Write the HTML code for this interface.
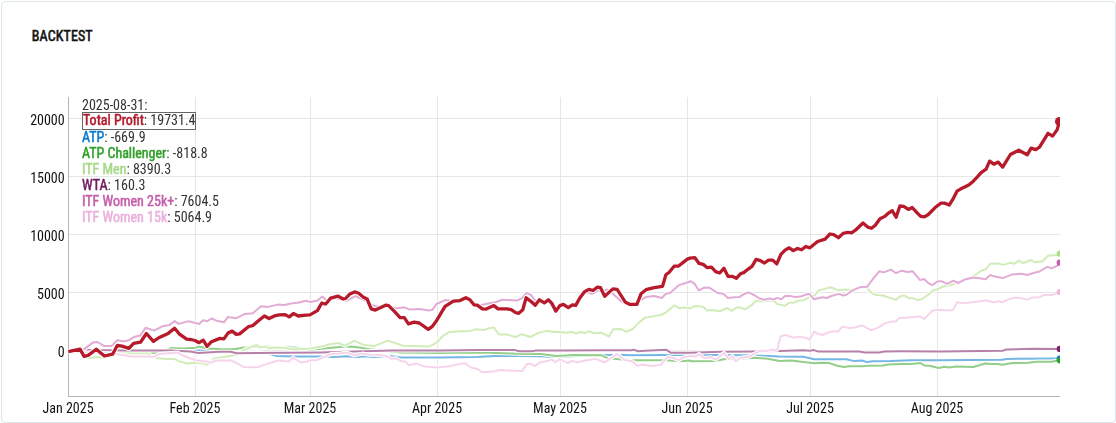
<!DOCTYPE html>
<html><head><meta charset="utf-8"><title>Backtest</title>
<style>
html,body{margin:0;padding:0;background:#fff;width:1116px;height:423px;overflow:hidden}
body{font-family:"Roboto Condensed","Liberation Sans Narrow","Liberation Sans",sans-serif;color:#212529;position:relative}
.card{position:absolute;left:1px;top:1px;width:1113px;height:420px;border:1px solid #dbe4e6;border-radius:4px;box-sizing:content-box}
.title{position:absolute;left:31.8px;top:28.3px;font-size:14px;font-weight:400;letter-spacing:0.12px;-webkit-text-stroke:0.55px #111;color:#111}
svg{position:absolute;left:0;top:0}
.yl{will-change:transform;position:absolute;left:0;width:64.7px;text-align:right;font-size:14px;line-height:18px;color:#111}
.xl{will-change:transform;position:absolute;top:399px;width:100px;text-align:center;font-size:14px;line-height:18px;color:#111}
.lg{will-change:transform;position:absolute;left:82px;font-size:14px;line-height:16px;color:#333;white-space:nowrap}
.lg b{font-weight:400;-webkit-text-stroke:0.5px currentColor}
.hl{position:absolute;left:82px;top:112px;width:112px;height:16px;border:1px solid #666}
</style></head><body>
<div class="card"></div>
<div class="title">BACKTEST</div>
<svg width="1116" height="423" viewBox="0 0 1116 423">
<defs><clipPath id="pc"><rect x="60" y="90" width="1000" height="305.5"/></clipPath></defs>
<g stroke="#e6e6e6" stroke-width="1">
<line x1="69" x2="1060" y1="118.5" y2="118.5"/>
<line x1="69" x2="1060" y1="176.5" y2="176.5"/>
<line x1="69" x2="1060" y1="234.5" y2="234.5"/>
<line x1="69" x2="1060" y1="292.5" y2="292.5"/>
<line x1="69" x2="1060" y1="350.5" y2="350.5"/>
<line x1="195.5" x2="195.5" y1="97" y2="396"/>
<line x1="310.5" x2="310.5" y1="97" y2="396"/>
<line x1="437.5" x2="437.5" y1="97" y2="396"/>
<line x1="560.5" x2="560.5" y1="97" y2="396"/>
<line x1="687.5" x2="687.5" y1="97" y2="396"/>
<line x1="810.5" x2="810.5" y1="97" y2="396"/>
<line x1="937.5" x2="937.5" y1="97" y2="396"/>
</g>
<g stroke="#b5b5b5" stroke-width="1">
<line x1="68.5" x2="68.5" y1="97" y2="397"/>
<line x1="68" x2="1060" y1="396.5" y2="396.5"/>
</g>
<g clip-path="url(#pc)">
<g>
<polyline points="68.0,351.0 100.0,352.0 128.9,353.0 156.9,353.0 180.0,352.0 198.2,350.6 207.5,350.6 230.0,352.0 262.0,352.5 270.0,354.0 276.2,355.9 294.8,356.5 320.0,356.5 333.3,357.0 347.3,356.2 356.6,357.0 364.7,356.2 374.0,357.0 391.5,356.2 400.9,357.4 440.0,357.4 476.8,357.0 494.2,355.9 517.5,355.9 540.8,356.2 552.5,357.0 580.0,356.0 605.4,355.0 622.4,355.0 633.8,355.2 666.4,355.0 690.0,354.9 720.5,355.1 755.9,355.6 779.6,356.5 803.2,356.8 810.0,358.2 813.9,359.2 846.4,359.2 854.2,361.1 862.0,360.5 867.2,362.1 872.4,361.3 890.6,361.1 911.4,360.2 940.0,360.2 1001.4,359.7 1007.2,358.9 1059.5,358.6" fill="none" stroke="#fff" stroke-width="4" stroke-linejoin="round" stroke-linecap="butt"/>
<polyline points="68.0,351.0 100.0,352.0 128.9,353.0 156.9,353.0 180.0,352.0 198.2,350.6 207.5,350.6 230.0,352.0 262.0,352.5 270.0,354.0 276.2,355.9 294.8,356.5 320.0,356.5 333.3,357.0 347.3,356.2 356.6,357.0 364.7,356.2 374.0,357.0 391.5,356.2 400.9,357.4 440.0,357.4 476.8,357.0 494.2,355.9 517.5,355.9 540.8,356.2 552.5,357.0 580.0,356.0 605.4,355.0 622.4,355.0 633.8,355.2 666.4,355.0 690.0,354.9 720.5,355.1 755.9,355.6 779.6,356.5 803.2,356.8 810.0,358.2 813.9,359.2 846.4,359.2 854.2,361.1 862.0,360.5 867.2,362.1 872.4,361.3 890.6,361.1 911.4,360.2 940.0,360.2 1001.4,359.7 1007.2,358.9 1059.5,358.6" fill="none" stroke="#74b7e5" stroke-width="2" stroke-linejoin="round" stroke-linecap="butt"/>
<polyline points="68.0,351.0 90.0,352.5 110.0,353.5 128.9,354.0 147.0,353.5 160.0,352.5 170.8,348.1 182.5,348.5 196.0,347.7 198.2,346.6 207.5,348.5 222.6,349.2 234.3,349.2 242.4,347.7 264.5,346.2 271.5,347.1 285.5,346.9 300.0,348.0 310.0,350.1 331.0,347.7 340.3,347.1 350.8,346.6 361.3,347.7 369.4,349.2 400.9,352.4 426.5,352.7 440.0,353.1 465.0,352.4 488.4,352.7 511.7,353.6 523.4,354.1 540.8,354.1 556.0,355.9 566.0,355.5 574.2,355.0 601.2,355.2 606.8,357.8 613.9,358.8 619.6,359.2 633.8,360.2 662.2,360.2 670.7,360.6 680.6,361.2 690.0,360.6 690.9,361.2 714.6,361.0 724.0,359.2 755.9,357.7 767.7,358.8 779.6,361.0 791.4,360.4 803.2,362.1 815.0,363.3 820.4,362.8 829.5,363.1 837.3,365.7 843.8,367.0 849.0,366.3 862.0,366.3 868.5,365.7 882.8,365.4 888.0,364.4 901.0,364.1 911.4,364.1 920.5,363.1 924.4,365.4 929.6,365.7 938.7,368.0 944.3,366.7 949.0,367.5 956.0,366.4 973.4,367.0 979.3,365.2 985.1,363.5 990.9,363.9 997.9,363.9 1002.6,364.7 1010.7,363.2 1028.2,362.7 1036.3,361.8 1051.5,361.8 1059.5,360.3" fill="none" stroke="#fff" stroke-width="4" stroke-linejoin="round" stroke-linecap="butt"/>
<polyline points="68.0,351.0 90.0,352.5 110.0,353.5 128.9,354.0 147.0,353.5 160.0,352.5 170.8,348.1 182.5,348.5 196.0,347.7 198.2,346.6 207.5,348.5 222.6,349.2 234.3,349.2 242.4,347.7 264.5,346.2 271.5,347.1 285.5,346.9 300.0,348.0 310.0,350.1 331.0,347.7 340.3,347.1 350.8,346.6 361.3,347.7 369.4,349.2 400.9,352.4 426.5,352.7 440.0,353.1 465.0,352.4 488.4,352.7 511.7,353.6 523.4,354.1 540.8,354.1 556.0,355.9 566.0,355.5 574.2,355.0 601.2,355.2 606.8,357.8 613.9,358.8 619.6,359.2 633.8,360.2 662.2,360.2 670.7,360.6 680.6,361.2 690.0,360.6 690.9,361.2 714.6,361.0 724.0,359.2 755.9,357.7 767.7,358.8 779.6,361.0 791.4,360.4 803.2,362.1 815.0,363.3 820.4,362.8 829.5,363.1 837.3,365.7 843.8,367.0 849.0,366.3 862.0,366.3 868.5,365.7 882.8,365.4 888.0,364.4 901.0,364.1 911.4,364.1 920.5,363.1 924.4,365.4 929.6,365.7 938.7,368.0 944.3,366.7 949.0,367.5 956.0,366.4 973.4,367.0 979.3,365.2 985.1,363.5 990.9,363.9 997.9,363.9 1002.6,364.7 1010.7,363.2 1028.2,362.7 1036.3,361.8 1051.5,361.8 1059.5,360.3" fill="none" stroke="#93ce89" stroke-width="2" stroke-linejoin="round" stroke-linecap="butt"/>
<polyline points="68.0,351.0 72.0,352.5 80.0,353.0 84.0,355.0 89.3,358.3 96.3,356.9 104.4,357.7 112.0,356.0 118.0,353.0 124.2,352.5 135.9,353.4 147.5,353.1 154.5,357.7 165.0,358.9 174.3,358.9 179.0,361.2 187.1,363.5 196.0,362.7 201.6,363.0 207.5,364.7 214.5,358.3 225.0,357.1 236.6,354.6 244.7,349.6 250.6,347.2 256.4,344.9 259.9,347.6 264.5,346.4 269.2,348.4 273.9,347.6 283.2,347.8 294.8,349.6 306.5,348.7 310.0,348.4 321.6,346.6 329.8,344.3 338.0,342.9 345.0,345.7 354.3,340.8 363.6,344.9 374.0,346.1 388.0,340.6 403.2,345.7 414.8,346.1 428.8,346.6 436.0,343.2 442.6,336.2 449.2,332.1 460.8,331.2 470.7,330.9 475.7,329.3 484.0,329.9 488.9,328.3 493.9,327.6 498.9,334.5 507.1,334.5 515.4,337.0 522.0,334.2 530.3,337.0 538.5,332.9 546.8,330.9 555.1,332.1 560.0,332.0 567.1,332.7 571.4,331.7 575.6,333.2 581.3,332.0 584.8,333.2 588.4,331.3 594.1,333.2 601.2,332.7 609.0,336.6 613.2,329.2 621.0,328.9 626.0,331.7 632.4,329.2 639.5,322.1 645.2,317.6 652.2,316.4 660.8,315.0 665.9,312.5 674.1,305.4 679.1,308.2 685.0,307.6 690.2,308.3 694.8,306.0 703.2,306.7 707.1,310.6 712.3,309.9 719.5,311.2 727.3,308.0 731.8,310.9 736.4,307.6 740.3,307.3 744.8,309.3 751.3,305.4 756.5,300.5 761.7,301.5 768.2,300.8 773.4,300.5 777.3,304.1 785.1,305.7 789.0,302.8 794.2,302.4 798.1,300.8 803.3,300.2 809.8,297.2 815.0,295.0 818.3,290.6 824.9,288.9 830.7,287.3 838.9,290.6 844.7,289.4 849.7,290.1 856.0,288.0 862.9,285.6 867.9,288.9 872.0,293.4 876.2,295.0 882.8,295.5 889.4,297.7 896.0,299.7 901.0,296.0 904.3,295.5 909.2,298.3 913.4,298.3 917.5,300.0 921.6,299.3 924.9,297.0 929.0,294.1 933.1,290.4 937.0,289.5 944.2,286.1 950.4,285.3 958.0,282.7 965.7,280.0 975.0,275.3 981.1,270.7 985.7,269.2 990.3,263.8 998.0,263.4 1003.4,264.9 1010.3,262.7 1014.1,263.8 1018.7,260.7 1023.4,263.0 1031.0,260.0 1034.9,262.3 1042.6,261.2 1047.9,255.7 1056.4,255.1 1059.5,253.3" fill="none" stroke="#fff" stroke-width="4" stroke-linejoin="round" stroke-linecap="butt"/>
<polyline points="68.0,351.0 72.0,352.5 80.0,353.0 84.0,355.0 89.3,358.3 96.3,356.9 104.4,357.7 112.0,356.0 118.0,353.0 124.2,352.5 135.9,353.4 147.5,353.1 154.5,357.7 165.0,358.9 174.3,358.9 179.0,361.2 187.1,363.5 196.0,362.7 201.6,363.0 207.5,364.7 214.5,358.3 225.0,357.1 236.6,354.6 244.7,349.6 250.6,347.2 256.4,344.9 259.9,347.6 264.5,346.4 269.2,348.4 273.9,347.6 283.2,347.8 294.8,349.6 306.5,348.7 310.0,348.4 321.6,346.6 329.8,344.3 338.0,342.9 345.0,345.7 354.3,340.8 363.6,344.9 374.0,346.1 388.0,340.6 403.2,345.7 414.8,346.1 428.8,346.6 436.0,343.2 442.6,336.2 449.2,332.1 460.8,331.2 470.7,330.9 475.7,329.3 484.0,329.9 488.9,328.3 493.9,327.6 498.9,334.5 507.1,334.5 515.4,337.0 522.0,334.2 530.3,337.0 538.5,332.9 546.8,330.9 555.1,332.1 560.0,332.0 567.1,332.7 571.4,331.7 575.6,333.2 581.3,332.0 584.8,333.2 588.4,331.3 594.1,333.2 601.2,332.7 609.0,336.6 613.2,329.2 621.0,328.9 626.0,331.7 632.4,329.2 639.5,322.1 645.2,317.6 652.2,316.4 660.8,315.0 665.9,312.5 674.1,305.4 679.1,308.2 685.0,307.6 690.2,308.3 694.8,306.0 703.2,306.7 707.1,310.6 712.3,309.9 719.5,311.2 727.3,308.0 731.8,310.9 736.4,307.6 740.3,307.3 744.8,309.3 751.3,305.4 756.5,300.5 761.7,301.5 768.2,300.8 773.4,300.5 777.3,304.1 785.1,305.7 789.0,302.8 794.2,302.4 798.1,300.8 803.3,300.2 809.8,297.2 815.0,295.0 818.3,290.6 824.9,288.9 830.7,287.3 838.9,290.6 844.7,289.4 849.7,290.1 856.0,288.0 862.9,285.6 867.9,288.9 872.0,293.4 876.2,295.0 882.8,295.5 889.4,297.7 896.0,299.7 901.0,296.0 904.3,295.5 909.2,298.3 913.4,298.3 917.5,300.0 921.6,299.3 924.9,297.0 929.0,294.1 933.1,290.4 937.0,289.5 944.2,286.1 950.4,285.3 958.0,282.7 965.7,280.0 975.0,275.3 981.1,270.7 985.7,269.2 990.3,263.8 998.0,263.4 1003.4,264.9 1010.3,262.7 1014.1,263.8 1018.7,260.7 1023.4,263.0 1031.0,260.0 1034.9,262.3 1042.6,261.2 1047.9,255.7 1056.4,255.1 1059.5,253.3" fill="none" stroke="#d1ecb9" stroke-width="2" stroke-linejoin="round" stroke-linecap="butt"/>
<polyline points="68.0,351.0 85.8,350.1 124.2,350.4 170.8,350.4 190.0,351.6 198.2,353.0 219.1,351.8 230.8,351.8 236.6,353.2 320.0,352.4 345.0,351.8 391.5,350.6 440.0,350.4 480.3,350.1 515.2,350.1 518.7,351.2 532.7,351.2 536.2,350.4 566.0,350.6 602.6,350.3 631.0,350.3 633.8,349.6 638.0,351.3 645.2,350.7 666.4,349.8 670.7,352.7 690.0,352.7 720.5,351.7 755.9,351.5 779.6,350.9 803.2,350.3 810.0,350.7 813.9,350.1 817.8,351.4 859.4,351.4 864.6,352.4 878.9,352.4 884.1,351.4 901.0,351.2 940.0,351.4 1002.6,350.7 1006.0,349.6 1034.0,348.7 1059.5,348.9" fill="none" stroke="#fff" stroke-width="4" stroke-linejoin="round" stroke-linecap="butt"/>
<polyline points="68.0,351.0 85.8,350.1 124.2,350.4 170.8,350.4 190.0,351.6 198.2,353.0 219.1,351.8 230.8,351.8 236.6,353.2 320.0,352.4 345.0,351.8 391.5,350.6 440.0,350.4 480.3,350.1 515.2,350.1 518.7,351.2 532.7,351.2 536.2,350.4 566.0,350.6 602.6,350.3 631.0,350.3 633.8,349.6 638.0,351.3 645.2,350.7 666.4,349.8 670.7,352.7 690.0,352.7 720.5,351.7 755.9,351.5 779.6,350.9 803.2,350.3 810.0,350.7 813.9,350.1 817.8,351.4 859.4,351.4 864.6,352.4 878.9,352.4 884.1,351.4 901.0,351.2 940.0,351.4 1002.6,350.7 1006.0,349.6 1034.0,348.7 1059.5,348.9" fill="none" stroke="#b680a8" stroke-width="2" stroke-linejoin="round" stroke-linecap="butt"/>
<polyline points="68.0,351.0 76.0,351.0 83.5,349.6 92.8,342.6 97.5,342.0 104.4,346.1 111.4,346.1 117.3,340.2 124.2,341.4 128.9,340.2 134.7,336.7 140.5,335.6 145.5,327.7 154.0,330.6 162.5,326.3 169.6,324.9 174.6,321.1 178.8,323.9 186.6,321.6 190.0,321.5 199.1,324.0 203.2,320.2 207.4,321.2 211.5,318.5 216.5,320.7 223.9,322.3 228.0,316.9 236.3,318.2 244.6,314.1 252.9,313.2 261.1,306.3 267.7,306.9 277.7,304.6 284.3,305.0 290.9,303.6 299.2,302.5 305.8,300.8 310.5,302.0 317.5,300.5 322.3,296.5 326.5,300.2 334.8,298.2 347.2,300.7 355.5,296.0 362.9,299.5 373.7,305.6 381.1,307.3 387.7,305.6 396.0,308.4 404.3,307.3 409.2,309.4 419.2,308.9 429.1,310.6 432.4,309.8 436.5,304.0 445.1,300.1 453.4,301.0 460.0,299.5 466.0,298.5 471.0,301.0 476.0,304.0 480.7,305.1 495.5,302.3 502.2,299.8 517.0,300.6 522.0,298.2 526.6,292.9 531.1,295.2 535.2,300.5 539.4,300.5 544.3,303.0 548.5,300.5 551.8,304.0 555.9,311.0 560.0,306.0 563.3,305.0 568.3,307.5 572.4,305.5 575.7,305.5 579.8,298.5 584.8,291.8 592.3,293.8 598.0,290.5 608.0,289.7 612.0,293.0 617.0,297.5 621.0,301.3 626.0,303.5 631.0,304.5 636.9,304.3 639.5,300.6 646.0,297.1 654.3,296.0 661.7,298.0 665.9,293.8 670.0,293.0 679.1,285.1 685.0,283.3 690.9,281.3 694.8,283.9 698.7,290.4 704.5,287.5 709.7,287.8 717.5,293.0 723.4,293.7 727.9,297.9 734.4,297.2 739.6,296.9 744.8,293.7 748.7,292.4 753.9,295.0 759.1,298.2 764.3,299.8 769.5,298.5 773.4,299.5 777.3,297.9 781.2,299.2 785.1,295.9 790.3,295.9 794.2,296.9 800.7,296.6 804.6,295.0 809.2,293.7 813.7,299.2 822.4,297.2 826.5,298.0 831.5,296.0 838.9,293.9 843.1,295.5 846.4,294.7 852.2,290.6 859.6,287.3 867.1,286.8 872.9,279.0 879.5,271.2 883.6,272.4 891.0,269.6 896.0,273.2 901.8,270.7 907.6,271.9 912.5,271.2 920.0,280.1 924.1,279.0 928.3,283.1 932.4,285.1 937.4,281.5 941.1,281.2 947.3,283.8 953.4,280.7 958.0,283.0 965.7,279.2 973.4,277.6 981.1,278.4 985.7,279.2 990.3,275.0 994.9,276.6 1002.6,278.1 1011.8,274.6 1021.0,273.8 1027.2,275.0 1033.3,273.0 1039.5,271.5 1047.2,266.9 1051.8,268.4 1057.9,265.4 1059.5,262.4" fill="none" stroke="#fff" stroke-width="4" stroke-linejoin="round" stroke-linecap="butt"/>
<polyline points="68.0,351.0 76.0,351.0 83.5,349.6 92.8,342.6 97.5,342.0 104.4,346.1 111.4,346.1 117.3,340.2 124.2,341.4 128.9,340.2 134.7,336.7 140.5,335.6 145.5,327.7 154.0,330.6 162.5,326.3 169.6,324.9 174.6,321.1 178.8,323.9 186.6,321.6 190.0,321.5 199.1,324.0 203.2,320.2 207.4,321.2 211.5,318.5 216.5,320.7 223.9,322.3 228.0,316.9 236.3,318.2 244.6,314.1 252.9,313.2 261.1,306.3 267.7,306.9 277.7,304.6 284.3,305.0 290.9,303.6 299.2,302.5 305.8,300.8 310.5,302.0 317.5,300.5 322.3,296.5 326.5,300.2 334.8,298.2 347.2,300.7 355.5,296.0 362.9,299.5 373.7,305.6 381.1,307.3 387.7,305.6 396.0,308.4 404.3,307.3 409.2,309.4 419.2,308.9 429.1,310.6 432.4,309.8 436.5,304.0 445.1,300.1 453.4,301.0 460.0,299.5 466.0,298.5 471.0,301.0 476.0,304.0 480.7,305.1 495.5,302.3 502.2,299.8 517.0,300.6 522.0,298.2 526.6,292.9 531.1,295.2 535.2,300.5 539.4,300.5 544.3,303.0 548.5,300.5 551.8,304.0 555.9,311.0 560.0,306.0 563.3,305.0 568.3,307.5 572.4,305.5 575.7,305.5 579.8,298.5 584.8,291.8 592.3,293.8 598.0,290.5 608.0,289.7 612.0,293.0 617.0,297.5 621.0,301.3 626.0,303.5 631.0,304.5 636.9,304.3 639.5,300.6 646.0,297.1 654.3,296.0 661.7,298.0 665.9,293.8 670.0,293.0 679.1,285.1 685.0,283.3 690.9,281.3 694.8,283.9 698.7,290.4 704.5,287.5 709.7,287.8 717.5,293.0 723.4,293.7 727.9,297.9 734.4,297.2 739.6,296.9 744.8,293.7 748.7,292.4 753.9,295.0 759.1,298.2 764.3,299.8 769.5,298.5 773.4,299.5 777.3,297.9 781.2,299.2 785.1,295.9 790.3,295.9 794.2,296.9 800.7,296.6 804.6,295.0 809.2,293.7 813.7,299.2 822.4,297.2 826.5,298.0 831.5,296.0 838.9,293.9 843.1,295.5 846.4,294.7 852.2,290.6 859.6,287.3 867.1,286.8 872.9,279.0 879.5,271.2 883.6,272.4 891.0,269.6 896.0,273.2 901.8,270.7 907.6,271.9 912.5,271.2 920.0,280.1 924.1,279.0 928.3,283.1 932.4,285.1 937.4,281.5 941.1,281.2 947.3,283.8 953.4,280.7 958.0,283.0 965.7,279.2 973.4,277.6 981.1,278.4 985.7,279.2 990.3,275.0 994.9,276.6 1002.6,278.1 1011.8,274.6 1021.0,273.8 1027.2,275.0 1033.3,273.0 1039.5,271.5 1047.2,266.9 1051.8,268.4 1057.9,265.4 1059.5,262.4" fill="none" stroke="#e2abd4" stroke-width="2" stroke-linejoin="round" stroke-linecap="butt"/>
<polyline points="68.0,351.0 80.0,352.0 88.0,352.5 100.0,353.0 116.1,354.1 124.2,355.3 131.2,356.5 140.5,356.5 154.5,356.7 159.2,354.1 177.8,352.4 182.5,355.3 190.0,358.2 197.0,360.5 207.5,361.7 211.0,362.9 215.6,360.5 230.8,360.5 236.6,362.9 243.6,367.0 257.6,367.2 264.5,364.6 271.5,362.5 278.5,360.5 289.0,361.4 293.1,357.6 300.7,362.5 306.5,361.7 310.0,360.5 317.0,360.0 324.0,357.0 331.0,354.1 339.1,353.6 346.1,352.4 354.3,355.3 362.4,353.6 369.4,354.7 379.9,355.1 385.7,355.9 391.5,358.8 396.2,358.2 400.9,361.1 405.5,361.7 409.0,365.2 416.0,363.5 424.2,366.4 432.3,367.0 436.0,367.5 447.6,366.4 457.0,364.6 465.1,363.2 471.0,367.5 478.0,369.3 482.0,372.2 493.0,371.4 500.0,369.9 508.2,370.4 522.2,371.0 526.9,364.0 530.3,363.7 535.0,366.0 539.7,362.5 547.8,361.1 551.9,359.4 555.4,362.3 559.5,359.4 566.0,362.1 567.8,363.0 572.1,360.9 577.0,362.3 585.5,360.6 595.5,358.8 604.7,362.3 616.8,354.1 625.3,360.2 632.4,361.2 637.3,365.9 642.3,364.5 650.8,365.9 660.8,364.9 667.9,356.7 673.5,358.1 678.5,360.2 683.5,357.4 690.0,355.9 695.6,356.5 699.2,353.9 703.9,358.0 711.0,357.2 715.7,359.8 724.0,352.9 728.7,359.2 732.3,356.0 735.8,361.2 740.6,357.7 748.8,356.8 755.9,352.9 760.7,350.6 765.4,351.3 770.1,350.1 777.2,349.7 780.7,336.2 785.5,335.0 793.7,337.8 798.5,336.8 805.6,337.8 809.7,339.8 813.9,331.7 818.5,334.0 822.4,335.0 826.9,333.0 833.4,331.1 838.0,331.7 842.5,326.5 849.0,328.1 854.2,327.5 862.7,325.5 871.1,330.4 878.9,327.2 884.8,323.3 891.3,321.6 895.8,321.6 899.3,317.9 907.6,317.5 914.9,316.9 919.9,316.3 924.4,319.0 928.2,314.8 932.7,310.5 937.3,309.9 941.0,309.7 946.4,310.5 953.0,309.9 957.1,302.2 961.3,303.1 967.9,302.8 978.0,301.5 985.7,300.2 993.4,302.2 998.0,301.2 1002.6,302.2 1007.2,299.9 1014.9,297.6 1021.0,298.1 1027.2,299.6 1031.8,297.6 1039.5,297.2 1044.1,295.0 1051.8,295.0 1059.5,292.0" fill="none" stroke="#fff" stroke-width="4" stroke-linejoin="round" stroke-linecap="butt"/>
<polyline points="68.0,351.0 80.0,352.0 88.0,352.5 100.0,353.0 116.1,354.1 124.2,355.3 131.2,356.5 140.5,356.5 154.5,356.7 159.2,354.1 177.8,352.4 182.5,355.3 190.0,358.2 197.0,360.5 207.5,361.7 211.0,362.9 215.6,360.5 230.8,360.5 236.6,362.9 243.6,367.0 257.6,367.2 264.5,364.6 271.5,362.5 278.5,360.5 289.0,361.4 293.1,357.6 300.7,362.5 306.5,361.7 310.0,360.5 317.0,360.0 324.0,357.0 331.0,354.1 339.1,353.6 346.1,352.4 354.3,355.3 362.4,353.6 369.4,354.7 379.9,355.1 385.7,355.9 391.5,358.8 396.2,358.2 400.9,361.1 405.5,361.7 409.0,365.2 416.0,363.5 424.2,366.4 432.3,367.0 436.0,367.5 447.6,366.4 457.0,364.6 465.1,363.2 471.0,367.5 478.0,369.3 482.0,372.2 493.0,371.4 500.0,369.9 508.2,370.4 522.2,371.0 526.9,364.0 530.3,363.7 535.0,366.0 539.7,362.5 547.8,361.1 551.9,359.4 555.4,362.3 559.5,359.4 566.0,362.1 567.8,363.0 572.1,360.9 577.0,362.3 585.5,360.6 595.5,358.8 604.7,362.3 616.8,354.1 625.3,360.2 632.4,361.2 637.3,365.9 642.3,364.5 650.8,365.9 660.8,364.9 667.9,356.7 673.5,358.1 678.5,360.2 683.5,357.4 690.0,355.9 695.6,356.5 699.2,353.9 703.9,358.0 711.0,357.2 715.7,359.8 724.0,352.9 728.7,359.2 732.3,356.0 735.8,361.2 740.6,357.7 748.8,356.8 755.9,352.9 760.7,350.6 765.4,351.3 770.1,350.1 777.2,349.7 780.7,336.2 785.5,335.0 793.7,337.8 798.5,336.8 805.6,337.8 809.7,339.8 813.9,331.7 818.5,334.0 822.4,335.0 826.9,333.0 833.4,331.1 838.0,331.7 842.5,326.5 849.0,328.1 854.2,327.5 862.7,325.5 871.1,330.4 878.9,327.2 884.8,323.3 891.3,321.6 895.8,321.6 899.3,317.9 907.6,317.5 914.9,316.9 919.9,316.3 924.4,319.0 928.2,314.8 932.7,310.5 937.3,309.9 941.0,309.7 946.4,310.5 953.0,309.9 957.1,302.2 961.3,303.1 967.9,302.8 978.0,301.5 985.7,300.2 993.4,302.2 998.0,301.2 1002.6,302.2 1007.2,299.9 1014.9,297.6 1021.0,298.1 1027.2,299.6 1031.8,297.6 1039.5,297.2 1044.1,295.0 1051.8,295.0 1059.5,292.0" fill="none" stroke="#f6d4ec" stroke-width="2" stroke-linejoin="round" stroke-linecap="butt"/>
</g>
<polyline points="68.3,351.6 80.0,349.2 84.1,356.3 88.1,355.4 96.3,349.2 104.4,356.0 112.6,354.2 117.3,345.5 121.9,346.1 128.9,348.4 133.6,343.4 140.5,342.2 146.4,333.5 153.4,341.4 159.2,337.5 168.2,333.4 174.6,328.2 179.5,334.1 186.6,339.1 190.9,339.5 195.0,340.5 199.1,342.7 203.2,340.2 207.0,346.3 211.5,341.7 219.8,338.4 223.9,338.9 228.0,333.1 232.2,331.1 236.3,334.4 239.6,333.9 248.7,326.5 252.9,325.6 257.8,321.2 264.4,316.0 269.1,318.5 274.4,315.9 279.3,314.9 285.1,314.6 289.2,316.9 293.4,313.6 298.3,316.0 305.8,315.2 309.9,314.9 317.4,310.6 321.6,303.2 325.7,304.0 330.7,298.2 338.1,296.2 343.1,299.0 345.6,298.5 349.7,294.1 354.7,291.9 358.8,293.2 362.9,296.9 367.1,299.0 371.2,308.9 375.3,310.1 386.1,305.1 388.6,305.6 394.4,311.4 400.1,317.7 404.3,317.7 408.4,323.8 414.2,322.2 419.2,323.0 428.3,329.3 432.4,326.3 436.0,321.6 440.1,314.7 445.1,306.4 453.4,301.1 460.0,300.6 465.8,297.7 469.9,299.8 474.0,304.8 477.3,305.1 482.3,308.9 485.6,309.2 493.9,305.6 498.0,308.9 507.1,308.9 511.3,309.7 515.4,312.5 518.7,313.4 522.8,309.7 526.1,297.8 531.1,301.5 535.2,305.3 539.4,299.8 544.3,302.8 548.5,299.8 551.8,303.4 555.9,311.1 560.0,305.6 563.3,304.3 568.3,307.6 572.4,304.9 575.7,305.4 579.8,298.0 584.5,291.7 588.9,289.4 593.1,290.5 597.2,287.2 600.5,287.7 604.7,296.3 612.9,288.9 617.1,289.4 625.3,302.1 629.5,304.3 636.9,304.3 641.0,293.8 646.0,289.7 654.3,287.7 662.5,286.4 665.9,274.8 669.2,272.3 674.1,266.2 678.3,266.2 683.2,262.4 687.4,259.1 690.0,258.1 694.9,257.7 699.1,263.4 703.2,264.4 707.3,267.7 711.5,267.2 715.6,271.6 719.7,273.0 723.9,268.3 728.0,276.3 732.1,276.3 736.3,278.3 740.4,273.8 743.7,272.6 747.9,269.3 752.0,266.3 756.1,259.4 760.3,260.6 764.4,263.0 768.5,260.1 772.7,260.1 776.8,263.9 780.9,254.4 785.1,250.1 789.2,247.8 793.3,250.6 797.5,248.5 801.6,249.8 805.7,246.5 809.9,247.8 817.6,241.5 825.1,239.1 829.9,234.0 833.7,234.7 838.4,237.7 843.1,233.4 847.8,232.4 851.6,232.8 855.4,230.2 863.0,223.0 867.7,227.1 871.5,228.3 875.3,225.3 880.0,218.8 884.7,216.4 888.5,213.1 892.3,210.7 896.1,217.3 899.9,206.0 903.7,206.3 908.4,209.4 912.2,207.5 916.9,212.6 920.7,216.4 924.5,216.9 928.3,214.5 934.9,207.8 940.7,203.2 944.9,203.2 949.2,205.1 953.4,198.3 957.0,191.2 961.3,188.6 964.8,186.9 969.1,184.8 973.3,181.2 977.6,176.7 981.1,172.7 986.1,169.2 989.6,161.1 993.9,164.2 998.2,162.1 1002.7,167.1 1010.4,154.5 1018.8,150.2 1027.2,154.8 1031.1,148.1 1035.7,149.6 1039.5,147.2 1048.0,133.3 1052.6,136.1 1057.2,129.6 1059.5,121.5" fill="none" stroke="#fff" stroke-width="5.3" stroke-linejoin="round" stroke-linecap="butt"/>
<polyline points="68.3,351.6 80.0,349.2 84.1,356.3 88.1,355.4 96.3,349.2 104.4,356.0 112.6,354.2 117.3,345.5 121.9,346.1 128.9,348.4 133.6,343.4 140.5,342.2 146.4,333.5 153.4,341.4 159.2,337.5 168.2,333.4 174.6,328.2 179.5,334.1 186.6,339.1 190.9,339.5 195.0,340.5 199.1,342.7 203.2,340.2 207.0,346.3 211.5,341.7 219.8,338.4 223.9,338.9 228.0,333.1 232.2,331.1 236.3,334.4 239.6,333.9 248.7,326.5 252.9,325.6 257.8,321.2 264.4,316.0 269.1,318.5 274.4,315.9 279.3,314.9 285.1,314.6 289.2,316.9 293.4,313.6 298.3,316.0 305.8,315.2 309.9,314.9 317.4,310.6 321.6,303.2 325.7,304.0 330.7,298.2 338.1,296.2 343.1,299.0 345.6,298.5 349.7,294.1 354.7,291.9 358.8,293.2 362.9,296.9 367.1,299.0 371.2,308.9 375.3,310.1 386.1,305.1 388.6,305.6 394.4,311.4 400.1,317.7 404.3,317.7 408.4,323.8 414.2,322.2 419.2,323.0 428.3,329.3 432.4,326.3 436.0,321.6 440.1,314.7 445.1,306.4 453.4,301.1 460.0,300.6 465.8,297.7 469.9,299.8 474.0,304.8 477.3,305.1 482.3,308.9 485.6,309.2 493.9,305.6 498.0,308.9 507.1,308.9 511.3,309.7 515.4,312.5 518.7,313.4 522.8,309.7 526.1,297.8 531.1,301.5 535.2,305.3 539.4,299.8 544.3,302.8 548.5,299.8 551.8,303.4 555.9,311.1 560.0,305.6 563.3,304.3 568.3,307.6 572.4,304.9 575.7,305.4 579.8,298.0 584.5,291.7 588.9,289.4 593.1,290.5 597.2,287.2 600.5,287.7 604.7,296.3 612.9,288.9 617.1,289.4 625.3,302.1 629.5,304.3 636.9,304.3 641.0,293.8 646.0,289.7 654.3,287.7 662.5,286.4 665.9,274.8 669.2,272.3 674.1,266.2 678.3,266.2 683.2,262.4 687.4,259.1 690.0,258.1 694.9,257.7 699.1,263.4 703.2,264.4 707.3,267.7 711.5,267.2 715.6,271.6 719.7,273.0 723.9,268.3 728.0,276.3 732.1,276.3 736.3,278.3 740.4,273.8 743.7,272.6 747.9,269.3 752.0,266.3 756.1,259.4 760.3,260.6 764.4,263.0 768.5,260.1 772.7,260.1 776.8,263.9 780.9,254.4 785.1,250.1 789.2,247.8 793.3,250.6 797.5,248.5 801.6,249.8 805.7,246.5 809.9,247.8 817.6,241.5 825.1,239.1 829.9,234.0 833.7,234.7 838.4,237.7 843.1,233.4 847.8,232.4 851.6,232.8 855.4,230.2 863.0,223.0 867.7,227.1 871.5,228.3 875.3,225.3 880.0,218.8 884.7,216.4 888.5,213.1 892.3,210.7 896.1,217.3 899.9,206.0 903.7,206.3 908.4,209.4 912.2,207.5 916.9,212.6 920.7,216.4 924.5,216.9 928.3,214.5 934.9,207.8 940.7,203.2 944.9,203.2 949.2,205.1 953.4,198.3 957.0,191.2 961.3,188.6 964.8,186.9 969.1,184.8 973.3,181.2 977.6,176.7 981.1,172.7 986.1,169.2 989.6,161.1 993.9,164.2 998.2,162.1 1002.7,167.1 1010.4,154.5 1018.8,150.2 1027.2,154.8 1031.1,148.1 1035.7,149.6 1039.5,147.2 1048.0,133.3 1052.6,136.1 1057.2,129.6 1059.5,121.5" fill="none" stroke="#b71a2a" stroke-width="3.3" stroke-linejoin="round" stroke-linecap="butt"/>
<circle cx="1059.7" cy="253.7" r="3.1" fill="#b2df8a"/>
<circle cx="1059.7" cy="262.7" r="3.1" fill="#c65fae"/>
<circle cx="1059.7" cy="292" r="3.1" fill="#f1b6da"/>
<circle cx="1059.7" cy="348.9" r="3.1" fill="#80246a"/>
<circle cx="1059.7" cy="358.6" r="3.1" fill="#0b7bd0"/>
<circle cx="1059.7" cy="360.3" r="3.1" fill="#33a02c"/>
<circle cx="1059.5" cy="121.5" r="4.5" fill="#b71a2a"/>
</g>
</svg>
<div class="yl" style="top:110.5px">20000</div>
<div class="yl" style="top:168.5px">15000</div>
<div class="yl" style="top:226.5px">10000</div>
<div class="yl" style="top:284.5px">5000</div>
<div class="yl" style="top:342.5px">0</div>
<div class="xl" style="left:18px">Jan 2025</div>
<div class="xl" style="left:145px">Feb 2025</div>
<div class="xl" style="left:260px">Mar 2025</div>
<div class="xl" style="left:387px">Apr 2025</div>
<div class="xl" style="left:510px">May 2025</div>
<div class="xl" style="left:637px">Jun 2025</div>
<div class="xl" style="left:760px">Jul 2025</div>
<div class="xl" style="left:887px">Aug 2025</div>
<div class="hl"></div>
<div class="lg" style="top:97px">2025-08-31:</div>
<div class="lg" style="top:112px;left:83px"><b style="color:#b2182b">Total Profit</b>: 19731.4</div>
<div class="lg" style="top:129px"><b style="color:#0b7bd0">ATP</b>: -669.9</div>
<div class="lg" style="top:145px"><b style="color:#33a02c">ATP Challenger</b>: -818.8</div>
<div class="lg" style="top:161px"><b style="color:#a6d98a">ITF Men</b>: 8390.3</div>
<div class="lg" style="top:177px"><b style="color:#741a5e">WTA</b>: 160.3</div>
<div class="lg" style="top:193px"><b style="color:#c35faa">ITF Women 25k+</b>: 7604.5</div>
<div class="lg" style="top:209px"><b style="color:#ebb0dc">ITF Women 15k</b>: 5064.9</div>
</body></html>
